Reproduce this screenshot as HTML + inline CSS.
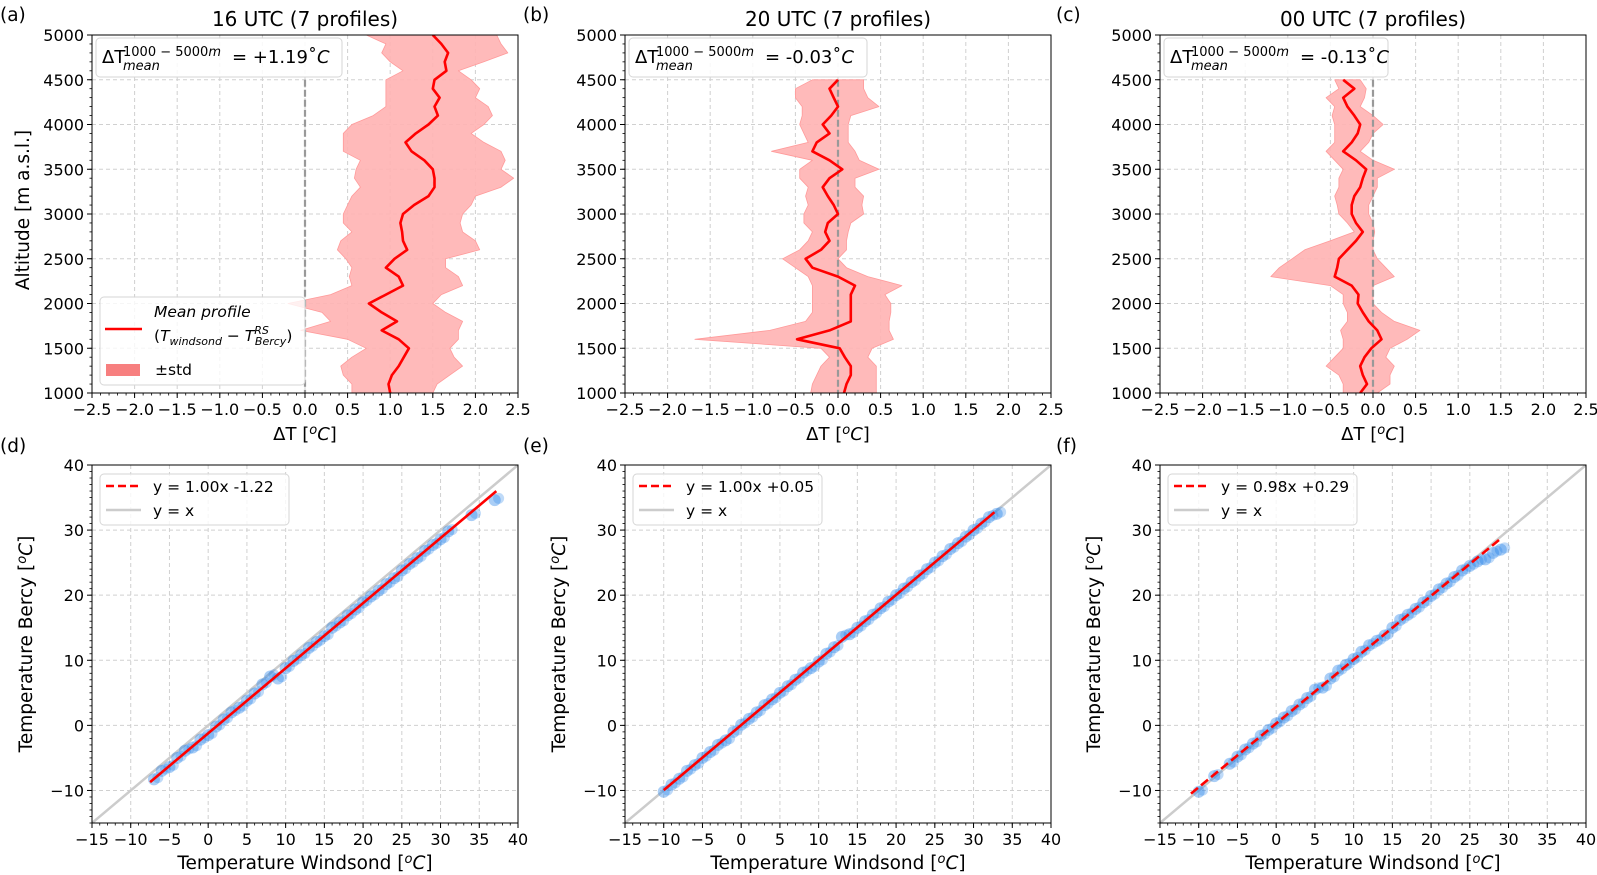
<!DOCTYPE html>
<html><head><meta charset="utf-8">
<style>
html,body{margin:0;padding:0;background:#fff;}
svg{display:block;font-family:"DejaVu Sans","Liberation Sans",sans-serif;}
</style></head>
<body>
<svg id="fig" width="1597" height="875" viewBox="0 0 1597 875" xmlns="http://www.w3.org/2000/svg"></svg>
<script>
// ---------- DATA ----------
const altitudes = [5000,4900,4800,4700,4600,4500,4400,4300,4200,4100,4000,3900,3800,3700,3600,3500,3400,3300,3200,3100,3000,2900,2800,2700,2600,2500,2400,2300,2200,2100,2000,1900,1800,1700,1600,1500,1400,1300,1200,1100,1000];
const meanA = [1.5,1.6,1.68,1.64,1.66,1.52,1.5,1.58,1.52,1.56,1.45,1.3,1.18,1.25,1.4,1.5,1.52,1.52,1.45,1.28,1.15,1.12,1.14,1.15,1.2,1.05,0.95,1.1,1.15,0.95,0.75,0.9,1.08,0.9,1.1,1.22,1.16,1.1,1.02,0.98,1.0];
const lowA  = [0.72,0.95,0.9,1.0,1.15,0.95,0.95,0.95,0.95,0.8,0.55,0.45,0.45,0.45,0.65,0.6,0.58,0.65,0.55,0.5,0.45,0.45,0.55,0.42,0.38,0.48,0.55,0.52,0.55,0.3,-0.2,0.2,0.3,-0.05,0.5,0.72,0.55,0.42,0.45,0.55,0.55];
const highA = [2.25,2.3,2.38,2.1,1.8,1.95,2.05,2.0,2.15,2.2,2.1,1.95,2.1,2.3,2.35,2.3,2.45,2.3,2.0,1.95,1.85,1.82,1.85,2.0,2.05,1.65,1.65,1.8,1.85,1.6,1.5,1.65,1.85,1.8,1.8,1.7,1.75,1.85,1.7,1.55,1.5];

const altitudesBC = [4500,4400,4300,4200,4100,4000,3900,3800,3700,3600,3500,3400,3300,3200,3100,3000,2900,2800,2700,2600,2500,2400,2300,2200,2100,2000,1900,1800,1700,1600,1500,1400,1300,1200,1100,1000];
const meanB = [0.0,-0.1,-0.05,0.0,-0.08,-0.18,-0.1,-0.25,-0.3,-0.1,0.05,-0.1,-0.18,-0.12,-0.05,0.0,-0.12,-0.15,-0.1,-0.2,-0.38,-0.3,0.0,0.2,0.15,0.15,0.15,0.15,-0.1,-0.48,0.02,0.08,0.15,0.15,0.1,0.07];
const lowB  = [-0.3,-0.5,-0.5,-0.42,-0.42,-0.45,-0.4,-0.35,-0.78,-0.3,-0.45,-0.45,-0.35,-0.38,-0.35,-0.4,-0.4,-0.3,-0.35,-0.45,-0.65,-0.5,-0.35,-0.3,-0.3,-0.3,-0.3,-0.38,-0.8,-1.68,-0.2,-0.1,-0.2,-0.25,-0.3,-0.32];
const highB = [0.3,0.3,0.35,0.48,0.15,0.12,0.12,0.12,0.2,0.25,0.48,0.2,0.2,0.3,0.28,0.3,0.15,0.12,0.1,0.1,0.0,0.1,0.35,0.75,0.55,0.62,0.62,0.6,0.6,0.65,0.4,0.35,0.45,0.45,0.45,0.45];
const meanC = [-0.35,-0.22,-0.35,-0.3,-0.22,-0.15,-0.18,-0.25,-0.35,-0.2,-0.08,-0.12,-0.15,-0.22,-0.25,-0.25,-0.2,-0.12,-0.2,-0.3,-0.4,-0.42,-0.45,-0.25,-0.17,-0.18,-0.12,-0.05,0.05,0.1,-0.02,-0.1,-0.15,-0.12,-0.07,-0.15];
const lowC  = [-0.45,-0.4,-0.55,-0.45,-0.48,-0.45,-0.45,-0.45,-0.55,-0.45,-0.35,-0.4,-0.4,-0.45,-0.42,-0.4,-0.3,-0.22,-0.5,-0.8,-0.95,-1.1,-1.2,-0.5,-0.35,-0.35,-0.3,-0.3,-0.38,-0.35,-0.35,-0.45,-0.55,-0.4,-0.35,-0.35];
const highC = [-0.15,-0.08,-0.1,-0.15,0.0,0.12,0.0,-0.05,-0.15,0.0,0.25,0.05,0.05,0.0,-0.05,-0.05,0.0,0.02,0.0,0.0,0.05,0.15,0.25,0.0,0.0,0.0,0.1,0.25,0.55,0.4,0.2,0.15,0.25,0.2,0.2,0.05];

const titlesTop = ["16 UTC (7 profiles)","20 UTC (7 profiles)","00 UTC (7 profiles)"];
const meanValues = ["+1.19","-0.03","-0.13"];
const xTicksTop = [-2.5,-2.0,-1.5,-1.0,-0.5,0.0,0.5,1.0,1.5,2.0,2.5];
const yTicksTop = [1000,1500,2000,2500,3000,3500,4000,4500,5000];

const scatXD = [-7,-6,-5,-4,-3,-2,-1,0,1,2,3,4,5,6,7,8,9,10,11,12,13,14,15,16,17,18,19,20,21,22,23,24,25,26,27,28,29,30,31,34,37];
const scatYD = [-8.3,-7,-6.4,-5,-3.9,-3.4,-2.2,-1.5,-0.2,0.9,2.0,2.7,3.8,4.9,6.3,7.5,7.2,8.8,9.9,10.8,11.9,12.8,13.7,15.0,15.8,16.9,17.8,18.9,19.8,20.7,21.7,22.6,23.8,24.8,25.7,26.8,27.7,28.6,29.8,32.3,34.6];
const scatXE = [-10,-9,-8,-7,-6,-5,-4,-3,-2,-1,0,1,2,3,4,5,6,7,8,9,10,11,12,13,14,15,16,17,18,19,20,21,22,23,24,25,26,27,28,29,30,31,32,33];
const scatYE = [-10.2,-9.1,-8.2,-7.0,-6.1,-5.0,-4.1,-3.0,-2.3,-1.0,0.1,1.0,2.0,3.1,4.0,5.0,6.0,7.0,8.1,8.8,9.8,11.0,12.0,13.6,14.0,15.0,16.0,17.0,18.0,19.0,20.0,21.0,22.0,23.0,24.0,25.0,26.0,27.1,28.0,29.0,30.0,31.0,32.0,32.5];
const scatXF = [-10,-8,-6,-5,-4,-3,-2,-1,0,1,2,3,4,5,6,7,8,9,10,11,12,13,14,15,16,17,18,19,20,21,22,23,24,25,26,27,28,29];
const scatYF = [-10.2,-7.8,-5.9,-4.8,-3.7,-2.8,-1.6,-0.7,0.3,1.2,2.2,3.2,4.2,5.5,5.8,7.2,8.4,9.3,10.2,11.3,12.3,13.0,13.8,15.0,16.2,17.0,17.9,18.9,19.9,20.9,21.8,22.8,23.8,24.5,25.2,25.5,26.5,27.0];
const fitSlopes = [1.00,1.00,0.98];
const fitIntercepts = [-1.22,0.05,0.29];
const fitRangeMin = [-7.5,-10,-11];
const fitRangeMax = [37.2,32.7,29];
const fitLabels = ["y = 1.00x -1.22","y = 1.00x +0.05","y = 0.98x +0.29"];
const xTicksBot = [-15,-10,-5,0,5,10,15,20,25,30,35,40];
const yTicksBot = [-10,0,10,20,30,40];

// ---------- LAYOUT ----------
const NS="http://www.w3.org/2000/svg";
const svg=document.getElementById('fig');
const lefts=[92,625,1160], W=426;
const topT=35, botT=393, topB=465, botB=823;
const panelLetters=[["(a)","(b)","(c)"],["(d)","(e)","(f)"]];
const letterX=[0,523,1056];
function mk(tag,attrs,parent){const e=document.createElementNS(NS,tag);for(const k in attrs)e.setAttribute(k,attrs[k]);(parent||svg).appendChild(e);return e;}
function fmt(v,d){let s=v.toFixed(d);return s.replace('-','\u2212');}

const defs=mk('defs',{});

function buildAxes(i,row){
  const L=lefts[i], T=row?topB:topT, B=row?botB:botT;
  const xmin=row?-15:-2.5, xmax=row?40:2.5, ymin=row?-15:1000, ymax=row?40:5000;
  const sx=v=>L+(v-xmin)/(xmax-xmin)*W;
  const sy=v=>B-(v-ymin)/(ymax-ymin)*(B-T);
  const g=mk('g',{});
  
  
  const cp=mk('clipPath',{id:'clip'+row+i},defs);
  mk('rect',{x:L,y:T,width:W,height:B-T},cp);
  const xt=row?xTicksBot:xTicksTop, yt=row?yTicksBot:yTicksTop;
  xt.forEach(v=>{const gl=mk('line',{x1:sx(v),x2:sx(v),y1:T,y2:B,stroke:'#d0d0d0','stroke-width':1,'stroke-dasharray':'4,3'},g);});
  yt.forEach(v=>{const gl=mk('line',{x1:L,x2:L+W,y1:sy(v),y2:sy(v),stroke:'#d0d0d0','stroke-width':1,'stroke-dasharray':'4,3'},g);});
  const xminStep=row?1:0.1, yminStep=row?1:100;
  for(let v=xmin;v<=xmax+1e-9;v+=xminStep) mk('line',{x1:sx(v),x2:sx(v),y1:B,y2:B+2.5,stroke:'#000','stroke-width':0.8},g);
  for(let v=ymin;v<=ymax+1e-9;v+=yminStep) mk('line',{x1:L,x2:L-2.5,y1:sy(v),y2:sy(v),stroke:'#000','stroke-width':0.8},g);
  xt.forEach(v=>{mk('line',{x1:sx(v),x2:sx(v),y1:B,y2:B+5,stroke:'#000','stroke-width':1},g);
    const t=mk('text',{x:sx(v),y:B+22,'text-anchor':'middle','font-size':16},g);t.textContent=row?fmt(v,0):fmt(v,1);
    });
  yt.forEach(v=>{mk('line',{x1:L,x2:L-5,y1:sy(v),y2:sy(v),stroke:'#000','stroke-width':1},g);
    const t=mk('text',{x:L-8,y:sy(v)+6,'text-anchor':'end','font-size':16},g);t.textContent=fmt(v,0);
    });
  const pl=mk('text',{x:letterX[i],y:row?452:21,'font-size':18.5},g);
  pl.textContent=panelLetters[row][i];
  
  return {g,L,T,B,sx,sy};
}

// ---------- TOP PANELS ----------
const profs=[[altitudes,meanA,lowA,highA],[altitudesBC,meanB,lowB,highB],[altitudesBC,meanC,lowC,highC]];
for(let i=0;i<3;i++){
  const {g,L,T,B,sx,sy}=buildAxes(i,0);
  const [alt,mean,lo,hi]=profs[i];
  const pg=mk('g',{'clip-path':'url(#clip0'+i+')'},g);
  let d='';alt.forEach((h,k)=>{d+=(k?'L':'M')+sx(lo[k]).toFixed(1)+','+sy(h).toFixed(1);});
  for(let k=alt.length-1;k>=0;k--) d+='L'+sx(hi[k]).toFixed(1)+','+sy(alt[k]).toFixed(1);
  const band=mk('path',{d:d+'Z',fill:'#ffb3b3','fill-opacity':0.9,stroke:'#ff9a9a','stroke-width':0.8,'stroke-linejoin':'round'},pg);
  
  const zl=mk('line',{x1:sx(0),x2:sx(0),y1:sy(4500),y2:B,stroke:'#999','stroke-width':2.2,'stroke-dasharray':'7,3'},pg);
  
  let m='';alt.forEach((h,k)=>{m+=(k?'L':'M')+sx(mean[k]).toFixed(1)+','+sy(h).toFixed(1);});
  const ml=mk('path',{d:m,fill:'none',stroke:'#ff0000','stroke-width':2.6,'stroke-linejoin':'round'},pg);
  
  mk('rect',{x:L,y:T,width:W,height:B-T,fill:'none',stroke:'#000','stroke-width':1},g);
  const tt=mk('text',{x:L+W/2,y:26,'text-anchor':'middle','font-size':20},g);tt.textContent=titlesTop[i];
  
  const bx=L+4, bw=(i==0?246:(i==1?238:224));
  const tb=mk('g',{},g);
  mk('rect',{x:bx,y:38,width:bw,height:39,rx:4,fill:'#fff','fill-opacity':0.85,stroke:'#d6d6d6','stroke-width':1},tb);
  let tx=mk('text',{x:bx+6,y:63,'font-size':18},tb);tx.textContent='ΔT';
  tx=mk('text',{x:bx+27,y:56,'font-size':13},tb);
  tx.innerHTML='1000 − 5000<tspan font-style="italic">m</tspan>';
  tx=mk('text',{x:bx+27,y:70,'font-size':13,'font-style':'italic'},tb);tx.textContent='mean';
  tx=mk('text',{x:bx+136,y:63,'font-size':18},tb);
  tx.innerHTML='= '+meanValues[i]+'˚<tspan font-style="italic">C</tspan>';
  const xl=mk('text',{x:L+W/2,y:440,'text-anchor':'middle','font-size':18},g);
  xl.innerHTML='ΔT [<tspan dy="-6" font-size="13" font-style="italic">o</tspan><tspan dy="6" font-style="italic">C</tspan>]';
  
}
const yl=mk('text',{transform:'translate(29,210) rotate(-90)','text-anchor':'middle','font-size':18.5});
yl.textContent='Altitude [m a.s.l.]';

const lg=mk('g',{});
mk('rect',{x:100,y:297,width:205,height:88,rx:4,fill:'#fff','fill-opacity':0.8,stroke:'#d6d6d6'},lg);
mk('line',{x1:105,x2:142,y1:329,y2:329,stroke:'#ff0000','stroke-width':2.6},lg);
let lt=mk('text',{x:154,y:317,'font-size':15.5,'font-style':'italic'},lg);lt.textContent='Mean profile';
lt=mk('text',{x:154,y:341,'font-size':15.5},lg);
lt.innerHTML='(<tspan font-style="italic">T</tspan><tspan dy="4" font-size="11" font-style="italic">windsond</tspan><tspan dy="-4"> − </tspan><tspan font-style="italic">T</tspan><tspan dy="-7" font-size="11" font-style="italic">RS</tspan><tspan dx="-14" dy="11" font-size="11" font-style="italic">Bercy</tspan><tspan dy="-4">)</tspan>';
mk('rect',{x:106,y:364,width:34,height:12,fill:'#f77f7f'},lg);
lt=mk('text',{x:155,y:375,'font-size':15.5},lg);lt.textContent='±std';

// ---------- BOTTOM PANELS ----------
const scats=[[scatXD,scatYD],[scatXE,scatYE],[scatXF,scatYF]];
for(let i=0;i<3;i++){
  const {g,L,T,B,sx,sy}=buildAxes(i,1);
  const pg=mk('g',{'clip-path':'url(#clip1'+i+')'},g);
  const idl=mk('line',{x1:sx(-15),y1:sy(-15),x2:sx(40),y2:sy(40),stroke:'#cccccc','stroke-width':2.5},pg);
  
  const [xs,ys]=scats[i];
  xs.forEach((x,k)=>{
    const c=mk('circle',{cx:sx(x),cy:sy(ys[k]),r:6,fill:'#2b85e8','fill-opacity':0.4},pg);
    
    const c2=mk('circle',{cx:sx(x+0.5),cy:sy(ys[k]+0.5*fitSlopes[i])+1.5,r:5.5,fill:'#2b85e8','fill-opacity':0.3},pg);
    
  });
  const x0=fitRangeMin[i],x1=fitRangeMax[i];
  const fl=mk('line',{x1:sx(x0),y1:sy(fitSlopes[i]*x0+fitIntercepts[i]),x2:sx(x1),y2:sy(fitSlopes[i]*x1+fitIntercepts[i]),stroke:'#ff0000','stroke-width':2.6,'stroke-dasharray':i==2?'9,4':'none'},pg);
  
  mk('rect',{x:L,y:T,width:W,height:B-T,fill:'none',stroke:'#000','stroke-width':1},g);
  const lb=mk('g',{},g);
  mk('rect',{x:L+8,y:474,width:189,height:51,rx:4,fill:'#fff','fill-opacity':0.8,stroke:'#d6d6d6'},lb);
  mk('line',{x1:L+14,x2:L+49,y1:486,y2:486,stroke:'#ff0000','stroke-width':2.6,'stroke-dasharray':'8,4'},lb);
  let t=mk('text',{x:L+61,y:492,'font-size':15.5},lb);t.textContent=fitLabels[i];
  mk('line',{x1:L+14,x2:L+49,y1:510,y2:510,stroke:'#cccccc','stroke-width':2.5},lb);
  t=mk('text',{x:L+61,y:516,'font-size':15.5},lb);t.textContent='y = x';
  const xl=mk('text',{x:L+W/2,y:869,'text-anchor':'middle','font-size':18.5},g);
  xl.innerHTML='Temperature Windsond [<tspan dy="-6" font-size="13" font-style="italic">o</tspan><tspan dy="6" font-style="italic">C</tspan>]';
  
  const yl2=mk('text',{transform:'translate('+(L-60)+','+((T+B)/2)+') rotate(-90)','text-anchor':'middle','font-size':18.5},g);
  yl2.innerHTML='Temperature Bercy [<tspan dy="-6" font-size="13" font-style="italic">o</tspan><tspan dy="6" font-style="italic">C</tspan>]';
  
}
</script>
</body></html>
